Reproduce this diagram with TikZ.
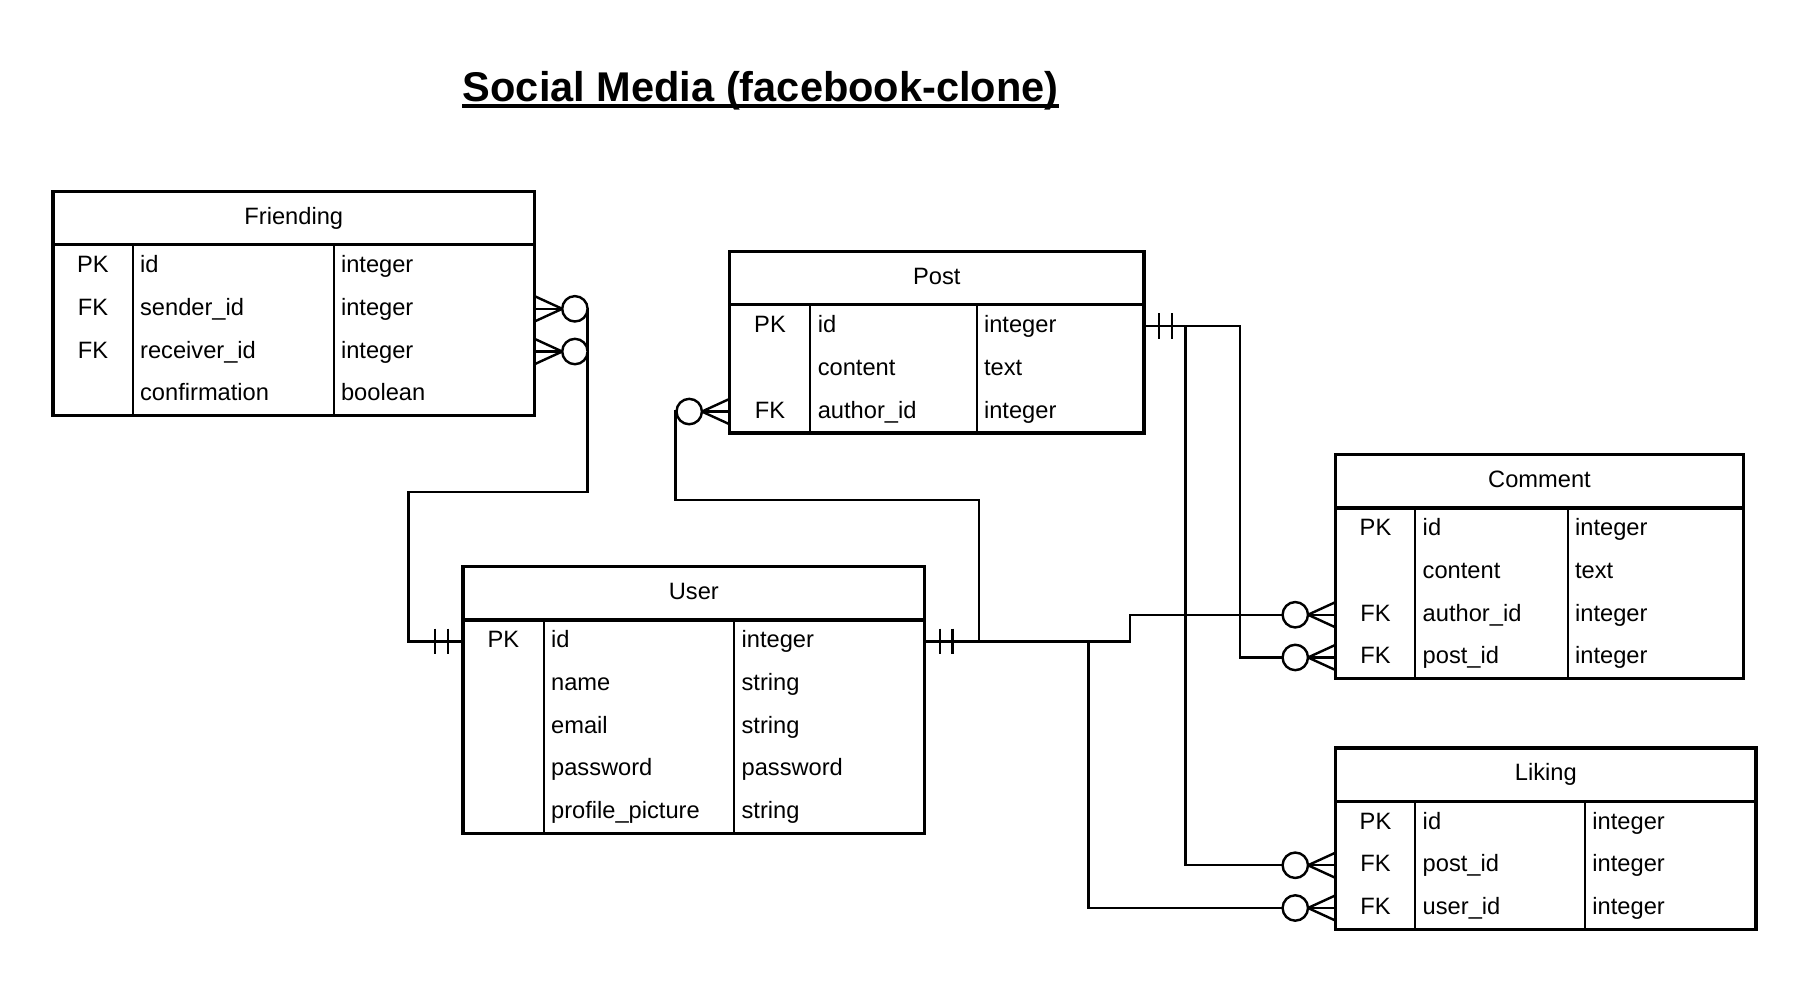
\documentclass[tikz,border=0pt]{standalone}
\usepackage{fontspec}
\setmainfont{Liberation Sans}
\usetikzlibrary{positioning,fit}

\tikzset{
  tblbox/.style={draw, line width=1.4pt, fill=white, inner sep=0pt},
  tblline/.style={line width=1.4pt},
  coldiv/.style={line width=0.9pt},
  cell/.style={inner sep=0pt, font=\fontsize{10.25}{12}\selectfont, text height=7.34pt, text depth=0pt},
  namecell/.style={cell, anchor=west},
  conn/.style={line width=1.05pt},
  zeromany/.pic={
    \draw[conn] (0,-11) -- (-24,0) -- (0,11);
    \draw[conn] (0,0) -- (-24,0);
    \draw[conn, fill=white] (-35,0) circle[radius=11];
  },
  onlyone/.pic={
    \draw[conn] (-13,-11) -- (-13,11);
    \draw[conn] (-24,-11) -- (-24,11);
  }
}

\begin{document}
\begin{tikzpicture}[x = .5pt, y = -.5pt]
\useasboundingbox (0,0) rectangle (1567,851.5);

% title
\node[inner sep=0pt, anchor=base, font=\fontsize{18}{22}\selectfont\bfseries] (title) at (659,87.8) {Social Media (facebook-clone)};
\draw[line width=1.6pt] ([yshift=-2pt]title.base west) -- ([yshift=-2pt]title.base east);

% connector ends
\coordinate (fr-send) at (463,267.5);
\coordinate (fr-recv) at (463,304.5);
\coordinate (fr-bend) at (509,426);
\coordinate (fr-down) at (354,426);
\coordinate (us-left) at (401,555.5);
\coordinate (us-right) at (801,555.5);
\coordinate (po-bend) at (848,433);
\coordinate (po-up) at (585,433);
\coordinate (po-auth) at (632,356.5);
\coordinate (po-id) at (991,282.5);
\coordinate (co-step) at (979,532.5);
\coordinate (co-auth) at (1157,532.5);
\coordinate (co-bend) at (1074,569.5);
\coordinate (co-post) at (1157,569.5);
\coordinate (li-bend) at (943,786.5);
\coordinate (li-user) at (1157,786.5);
\coordinate (li-bend2) at (1027,749.5);
\coordinate (li-post) at (1157,749.5);

\draw[conn] (fr-send) -| (fr-bend) -- (fr-down) |- (us-left);
\draw[conn] (fr-recv) -| (fr-bend);
\draw[conn] (us-right) -| (po-bend) -- (po-up) |- (po-auth);
\draw[conn] (us-right) -| (co-step) -- (co-auth);
\draw[conn] (us-right) -| (li-bend) -- (li-user);
\draw[conn] (po-id) -| (co-bend) -- (co-post);
\draw[conn] (po-id) -| (li-bend2) -- (li-post);

\pic[xscale=-1] at (fr-send) {zeromany};
\pic[xscale=-1] at (fr-recv) {zeromany};
\pic at (po-auth) {zeromany};
\pic at (co-auth) {zeromany};
\pic at (co-post) {zeromany};
\pic at (li-post) {zeromany};
\pic at (li-user) {zeromany};
\pic at (us-left) {onlyone};
\pic[xscale=-1] at (us-right) {onlyone};
\pic[xscale=-1] at (po-id) {onlyone};

% Friending
\node[tblbox, fit={(46,166) (463,360)}] (friending) {};
\node[cell] (friending-title) at (254.5,187) {Friending};
\draw[tblline] (46,212) -- (463,212);
\draw[coldiv] (115,212) -- (115,360) (289,212) -- (289,360);
\foreach \k/\n/\t [count=\i] in {PK/id/integer, FK/sender\_id/integer, FK/receiver\_id/integer, {}/confirmation/boolean} {
  \node[cell] (friending-key\i) at (80.5,{212+37*\i-20.2}) {\k};
  \node[namecell] (friending-name\i) at (121,{212+37*\i-20.2}) {\n};
  \node[namecell] (friending-type\i) at (295,{212+37*\i-20.2}) {\t};
}

% Post
\node[tblbox, fit={(632,218) (991,375)}] (post) {};
\node[cell] (post-title) at (811.5,239) {Post};
\draw[tblline] (632,264) -- (991,264);
\draw[coldiv] (702,264) -- (702,375) (846,264) -- (846,375);
\foreach \k/\n/\t [count=\i] in {PK/id/integer, {}/content/text, FK/author\_id/integer} {
  \node[cell] (post-key\i) at (667,{264+37*\i-20.2}) {\k};
  \node[namecell] (post-name\i) at (708,{264+37*\i-20.2}) {\n};
  \node[namecell] (post-type\i) at (852,{264+37*\i-20.2}) {\t};
}

% Comment
\node[tblbox, fit={(1157,394) (1510,588)}] (comment) {};
\node[cell] (comment-title) at (1333.5,415) {Comment};
\draw[tblline] (1157,440) -- (1510,440);
\draw[coldiv] (1226,440) -- (1226,588) (1358,440) -- (1358,588);
\foreach \k/\n/\t [count=\i] in {PK/id/integer, {}/content/text, FK/author\_id/integer, FK/post\_id/integer} {
  \node[cell] (comment-key\i) at (1191.5,{440+37*\i-20.2}) {\k};
  \node[namecell] (comment-name\i) at (1232,{440+37*\i-20.2}) {\n};
  \node[namecell] (comment-type\i) at (1364,{440+37*\i-20.2}) {\t};
}

% User
\node[tblbox, fit={(401,491) (801,722)}] (user) {};
\node[cell] (user-title) at (601,512) {User};
\draw[tblline] (401,537) -- (801,537);
\draw[coldiv] (471,537) -- (471,722) (636,537) -- (636,722);
\foreach \k/\n/\t [count=\i] in {PK/id/integer, {}/name/string, {}/email/string, {}/password/password, {}/profile\_picture/string} {
  \node[cell] (user-key\i) at (436,{537+37*\i-20.2}) {\k};
  \node[namecell] (user-name\i) at (477,{537+37*\i-20.2}) {\n};
  \node[namecell] (user-type\i) at (642,{537+37*\i-20.2}) {\t};
}

% Liking
\node[tblbox, fit={(1157,648) (1521,805)}] (liking) {};
\node[cell] (liking-title) at (1339,669) {Liking};
\draw[tblline] (1157,694) -- (1521,694);
\draw[coldiv] (1226,694) -- (1226,805) (1373,694) -- (1373,805);
\foreach \k/\n/\t [count=\i] in {PK/id/integer, FK/post\_id/integer, FK/user\_id/integer} {
  \node[cell] (liking-key\i) at (1191.5,{694+37*\i-20.2}) {\k};
  \node[namecell] (liking-name\i) at (1232,{694+37*\i-20.2}) {\n};
  \node[namecell] (liking-type\i) at (1379,{694+37*\i-20.2}) {\t};
}
\end{tikzpicture}
\end{document}
